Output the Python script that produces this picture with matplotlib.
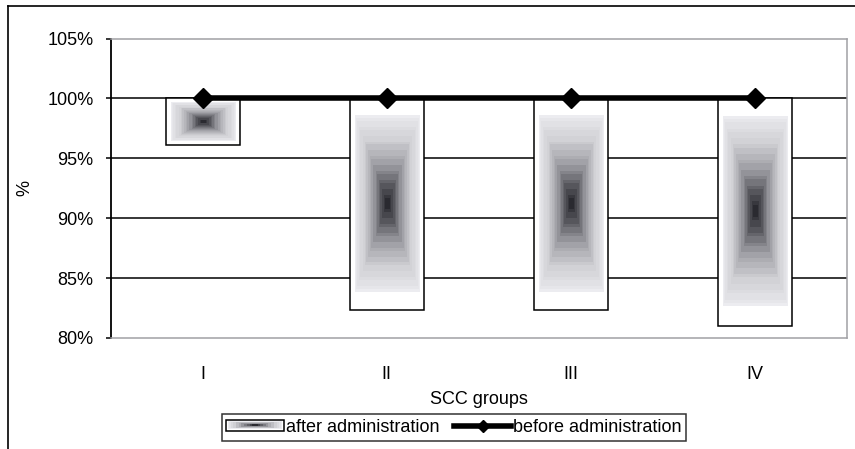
import numpy as np
import matplotlib
matplotlib.use("Agg")
import matplotlib.pyplot as plt
from matplotlib.patches import Rectangle
from matplotlib.lines import Line2D
from matplotlib.legend_handler import HandlerBase
from matplotlib.image import BboxImage
from matplotlib.transforms import Bbox, TransformedBbox
from matplotlib.colors import LinearSegmentedColormap

plt.rcParams['font.family'] = ['Liberation Sans', 'DejaVu Sans']

groups = ["I", "II", "III", "IV"]
before = [100, 100, 100, 100]
after = [96.1, 82.3, 82.3, 81.0]
yticks = [80, 85, 90, 95, 100, 105]

cmap = LinearSegmentedColormap.from_list(
    "g", [(0, "#2a2a30"), (0.2, "#606066"), (0.45, "#a4a4aa"), (0.7, "#d0d0d4"), (1, "#ececf0")])


def box_gradient(nx=60, ny=60, steps=18):
    xx = np.linspace(-1, 1, nx)
    yy = np.linspace(-1, 1, ny)
    X, Y = np.meshgrid(xx, yy)
    d = np.maximum(np.abs(X), np.abs(Y))
    d = np.floor(d * steps) / steps
    return d


fig = plt.figure(figsize=(8.55, 4.49), dpi=100)
ax = fig.add_axes([110.7 / 855, 1 - 338 / 449, 736 / 855, 299.5 / 449])

x = np.arange(len(groups))
width = 0.4

for yv in [85, 90, 95, 100]:
    ax.axhline(yv, color="black", lw=1.1, zorder=1)

# bars hang from 100% down to the value
for xi, b, a in zip(x, before, after):
    ax.add_patch(Rectangle((xi - width / 2, a), width, b - a, facecolor="white",
                           edgecolor="black", lw=1.1, zorder=2))
    h = b - a
    ix = width * 0.065
    iy = h * 0.08
    ax.imshow(box_gradient(), cmap=cmap, vmin=0, vmax=1, aspect="auto",
              extent=(xi - width / 2 + ix, xi + width / 2 - ix, a + iy * 1.1, b - iy),
              interpolation="nearest", zorder=3)

ax.plot(x, before, color="black", lw=4, marker="D", markersize=10, zorder=5, clip_on=False)

ax.set_xlim(-0.5, len(groups) - 0.5)
ax.set_ylim(80, 105)
ax.set_yticks(yticks)
ax.set_yticklabels([f"{v}%" for v in yticks], fontsize=13)
ax.set_xticks(x)
ax.set_xticklabels(groups, fontsize=13)
ax.tick_params(axis="x", length=0, pad=20)
ax.tick_params(axis="y", length=3.3, width=1.1, pad=9)

for s in ["top", "right", "bottom"]:
    ax.spines[s].set_color("#a0a0a4")
    ax.spines[s].set_linewidth(1.1)
ax.spines["left"].set_color("black")
ax.spines["left"].set_linewidth(1.3)

ax.set_xlabel("SCC groups", fontsize=13, labelpad=6)
fig.text(25 / 855, 1 - 188 / 449, "%", rotation=90, fontsize=13, ha="center", va="center")

# outer chart frame (cropped at right and bottom)
fig.add_artist(Line2D([8 / 855, 8 / 855], [0, 1 - 5.5 / 449], color="black", lw=1.2, transform=fig.transFigure))
fig.add_artist(Line2D([8 / 855, 1], [1 - 5.5 / 449, 1 - 5.5 / 449], color="black", lw=1.2, transform=fig.transFigure))


class GradHandler(HandlerBase):
    def create_artists(self, legend, orig_handle, xdescent, ydescent, width, height, fontsize, trans):
        r = Rectangle((-xdescent, -ydescent), width, height, facecolor="white",
                      edgecolor="black", lw=1.1, transform=trans)
        bb = Bbox.from_bounds(-xdescent + 1.5, -ydescent + 1.5, width - 3, height - 3)
        im = BboxImage(TransformedBbox(bb, trans), cmap=cmap, norm=plt.Normalize(0, 1),
                       interpolation="nearest")
        im.set_data(box_gradient(40, 12, 10))
        return [r, im]


grad_proxy = Rectangle((0, 0), 1, 1)
line_proxy = Line2D([], [], color="black", lw=4, marker="D", markersize=6)
leg = fig.legend([grad_proxy, line_proxy], ["after administration", "before administration"],
                 handler_map={Rectangle: GradHandler()}, loc="center",
                 bbox_to_anchor=(454 / 855, 1 - 427.5 / 449), ncol=2, fontsize=13,
                 frameon=True, fancybox=False, borderpad=0.25, handlelength=3.2,
                 handletextpad=0.1, columnspacing=0.8, handleheight=0.6, borderaxespad=0)
leg.get_frame().set_edgecolor("black")
leg.get_frame().set_linewidth(1.1)

fig.savefig("out.png", dpi=100)
